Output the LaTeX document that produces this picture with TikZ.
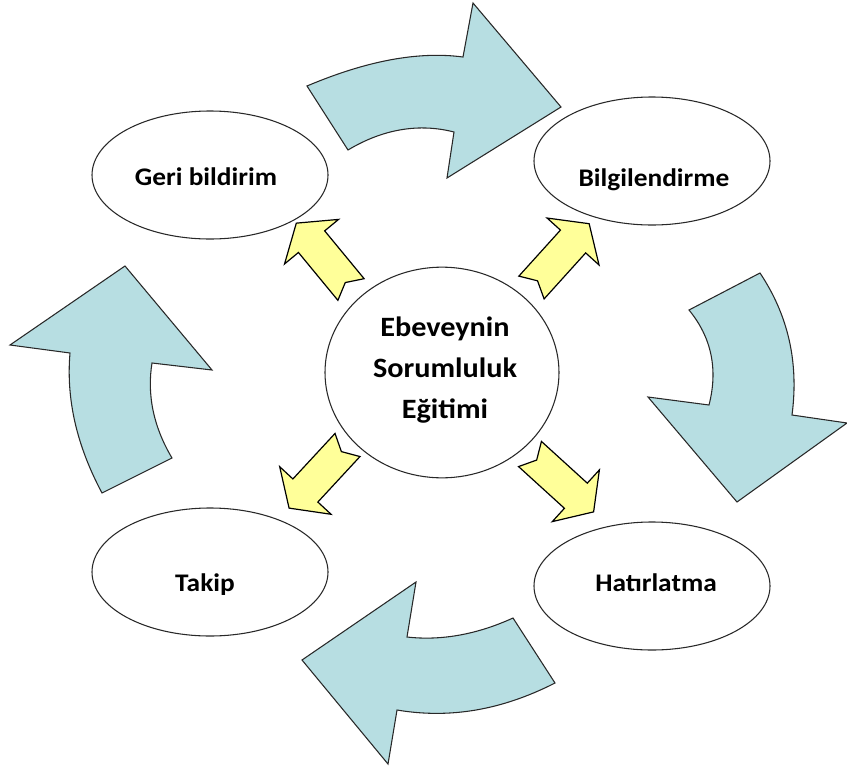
\documentclass[tikz,border=0pt]{standalone}
\usepackage{fontspec}
\setmainfont{Carlito}[FakeStretch=1.08]
\usetikzlibrary{shapes.geometric}
\definecolor{bluefill}{RGB}{183,222,226}
\definecolor{yelfill}{RGB}{255,255,153}
\definecolor{edge}{RGB}{40,40,40}
\tikzset{
  ell/.style={ellipse, draw=edge, line width=0.8pt, fill=white, inner sep=0pt, minimum width=177pt, minimum height=96pt},
  lab/.style={font=\bfseries\fontsize{19}{23}\selectfont, text=black, anchor=base, inner sep=0pt},
  clab/.style={font=\bfseries\fontsize{21}{30.5}\selectfont, text=black, align=center, inner sep=0pt},
  bigarrow/.style={draw=edge, line width=0.8pt, fill=bluefill, line join=miter},
  yelarrow/.style={draw=black, line width=0.9pt, fill=yelfill, line join=miter},
  yarrow/.pic={\draw[yelarrow] (0,17) -- (62,17) -- (62,35) -- (86,0) -- (62,-35) -- (62,-17) -- (0,-17) -- (9,0) -- cycle;}
}
\begin{document}
\begin{tikzpicture}[x=0.75pt,y=-0.75pt]
\useasboundingbox (0,0) rectangle (847,772);
% ellipses
\node[ell] (geri) at (210,175) {};
\node[ell] (bilgi) at (652,161) {};
\node[ell] (takip) at (210,572) {};
\node[ell] (hatir) at (652,586) {};
\node[ell, minimum width=175.5pt, minimum height=158pt] (center) at (442,372.5) {};
% labels
\node[lab] (tgeri) at (206,185) {Geri bildirim};
\node[lab] (tbilgi) at (654,186) {Bilgilendirme};
\node[lab] (ttakip) at (205,591) {Takip};
\node[lab] (thatir) at (656,591) {Hatırlatma};
\node[clab] (tcenter) at (445,370) {Ebeveynin\\Sorumluluk\\Eğitimi};
% big curved arrows
\draw[bigarrow] (307,86) .. controls (366,61) and (418,51) .. (463,57) -- (473,3) -- (561,107) -- (447,178) -- (454,132) .. controls (419,123) and (383,129) .. (348,150) -- cycle;
\draw[bigarrow] (689,310) -- (760,273) .. controls (788,315) and (799,362) .. (792,415) -- (847,423) -- (737,502) -- (648,397) -- (709,405) .. controls (718,370) and (712,338) .. (689,310) -- cycle;
\draw[bigarrow] (513,618) -- (555,683) .. controls (502,710) and (450,719) .. (397,710) -- (388,764) -- (302,660) -- (416,582) -- (407,637) .. controls (442,641) and (478,634) .. (513,618) -- cycle;
\draw[bigarrow] (102,493) -- (172,458) .. controls (153,426) and (147,394) .. (152,363) -- (212,370) -- (125,266) -- (10,345) -- (70,353) .. controls (66,400) and (77,446) .. (102,493) -- cycle;
% yellow arrows
\pic[rotate=129.5] (ytl) at (351,289.5) {yarrow};
\pic[rotate=47.9] (ytr) at (531.5,287.5) {yarrow};
\pic[rotate=-132.8] (ybl) at (347.5,445) {yarrow};
\pic[rotate=-42.3] (ybr) at (530,454) {yarrow};
\end{tikzpicture}
\end{document}
